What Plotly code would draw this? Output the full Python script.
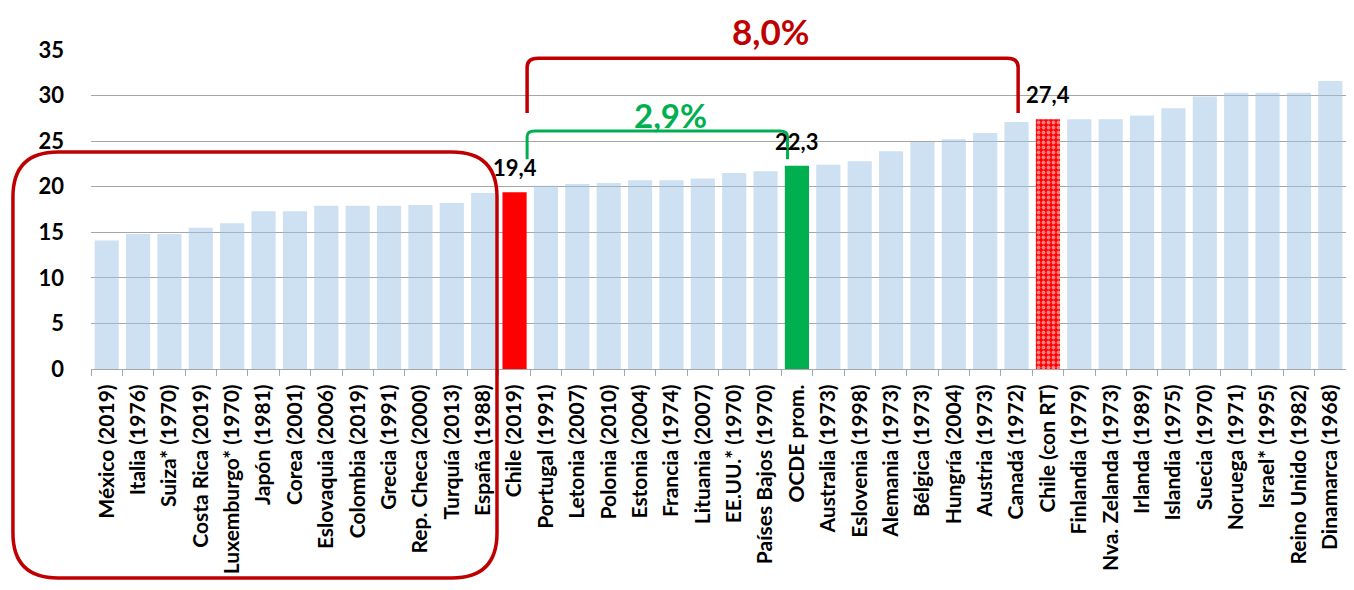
import plotly.graph_objs as go

# Countries (year of introduction) ordered by value
paises = [
    "México (2019)", "Italia (1976)", "Suiza* (1970)", "Costa Rica (2019)",
    "Luxemburgo* (1970)", "Japón (1981)", "Corea (2001)", "Eslovaquia (2006)",
    "Colombia (2019)", "Grecia (1991)", "Rep. Checa (2000)", "Turquía (2013)",
    "España (1988)", "Chile (2019)", "Portugal (1991)", "Letonia (2007)",
    "Polonia (2010)", "Estonia (2004)", "Francia (1974)", "Lituania (2007)",
    "EE.UU.* (1970)", "Países Bajos (1970)", "OCDE prom.", "Australia (1973)",
    "Eslovenia (1998)", "Alemania (1973)", "Bélgica (1973)", "Hungría (2004)",
    "Austria (1973)", "Canadá (1972)", "Chile (con RT)", "Finlandia (1979)",
    "Nva. Zelanda (1973)", "Irlanda (1989)", "Islandia (1975)", "Suecia (1970)",
    "Noruega (1971)", "Israel* (1995)", "Reino Unido (1982)", "Dinamarca (1968)",
]
valores = [
    14.1, 14.8, 14.8, 15.5, 16.0, 17.3, 17.3, 17.9, 17.9, 17.9, 18.0, 18.2,
    19.3, 19.4, 20.1, 20.3, 20.4, 20.7, 20.7, 20.9, 21.5, 21.7, 22.3, 22.4,
    22.8, 23.9, 24.9, 25.2, 25.9, 27.1, 27.4, 27.4, 27.4, 27.8, 28.6, 29.9,
    30.3, 30.3, 30.3, 31.6,
]
etiquetas = {"Chile (2019)": "19,4", "OCDE prom.": "22,3", "Chile (con RT)": "27,4"}

AZUL = "rgba(157,195,230,0.5)"
ROJO = "#ff0000"
VERDE = "#00b050"
ROJO_OSC = "#c00000"
FONT = "Lato"

colores = []
for p in paises:
    if p == "Chile (2019)":
        colores.append(ROJO)
    elif p == "OCDE prom.":
        colores.append(VERDE)
    elif p == "Chile (con RT)":
        colores.append(ROJO)
    else:
        colores.append(AZUL)

shapes_pat = ["." if p == "Chile (con RT)" else "" for p in paises]

fig = go.Figure()
fig.add_trace(go.Bar(
    x=paises, y=valores,
    marker=dict(
        color=colores, line=dict(width=0),
        pattern=dict(shape=shapes_pat, fgcolor="white", size=5, solidity=0.45,
                     fillmode="overlay"),
    ),
    showlegend=False,
))

# value labels above highlighted bars
for p, txt in etiquetas.items():
    fig.add_annotation(x=p, y=valores[paises.index(p)], text=f"<b>{txt}</b>",
                       showarrow=False, yanchor="bottom", yshift=9,
                       font=dict(family=FONT, size=22, color="black"))

# page body has an 8px margin; work in screen pixels and shift
OFF = 8
W, H = 1354 - 2 * OFF, 590 - 2 * OFF
L, T = 91 - OFF, 50 - OFF
B = H - (369 - OFF)
R = 0
pw, ph = W - L - R, H - T - B


def px(x, y):
    # screen pixel -> paper coords
    return (x - OFF - L) / pw, (H - B - (y - OFF)) / ph


def rounded_rect(x0, y0, x1, y1, r):
    pts = [
        ("M", x0 + r, y0), ("L", x1 - r, y0), ("Q", x1, y0, x1, y0 + r),
        ("L", x1, y1 - r), ("Q", x1, y1, x1 - r, y1), ("L", x0 + r, y1),
        ("Q", x0, y1, x0, y1 - r), ("L", x0, y0 + r), ("Q", x0, y0, x0 + r, y0),
    ]
    out = []
    for seg in pts:
        cmd, coords = seg[0], seg[1:]
        xy = []
        for i in range(0, len(coords), 2):
            a, b = px(coords[i], coords[i + 1])
            xy.append(f"{a:.4f},{b:.4f}")
        out.append(cmd + " " + " ".join(xy))
    return " ".join(out) + " Z"


fig.add_shape(type="path", xref="paper", yref="paper",
              path=rounded_rect(13, 152, 497, 578, 45),
              line=dict(color=ROJO_OSC, width=3.5), layer="above")


def bracket(x0, x1, ytop, ybot, r=0.35, ry=1.0):
    return (f"M {x0},{ybot} L {x0},{ytop - ry} Q {x0},{ytop} {x0 + r},{ytop} "
            f"L {x1 - r},{ytop} Q {x1},{ytop} {x1},{ytop - ry} L {x1},{ybot}")


fig.add_shape(type="path", xref="x", yref="y",
              path=bracket(13.4, 29.05, 34.1, 28.1),
              line=dict(color=ROJO_OSC, width=3.5), layer="above")
fig.add_shape(type="path", xref="x", yref="y",
              path=bracket(13.4, 21.7, 26.1, 23.0, r=0.25, ry=0.6),
              line=dict(color=VERDE, width=3), layer="above")

ax, ay = px(770, 31)
fig.add_annotation(xref="paper", yref="paper", x=ax, y=ay,
                   xanchor="center", yanchor="middle", borderpad=0,
                   text="<b>8,0%</b>", showarrow=False,
                   font=dict(family=FONT, size=35, color=ROJO_OSC))
gx, gy = px(670, 115)
fig.add_annotation(xref="paper", yref="paper", x=gx, y=gy,
                   xanchor="center", yanchor="middle", borderpad=0,
                   text="<b>2,9%</b>", showarrow=False,
                   font=dict(family=FONT, size=33, color=VERDE))

fig.update_layout(
    width=W, height=H,
    margin=dict(l=L, r=R, t=T, b=B, autoexpand=False),
    plot_bgcolor="white", paper_bgcolor="white",
    bargap=0.23,
    font=dict(family=FONT, color="black"),
    xaxis=dict(
        type="category", tickangle=-90, tickson="boundaries",
        ticks="outside", ticklen=6, tickcolor="#a6a6a6",
        showline=True, linecolor="#a6a6a6", linewidth=1,
        ticklabelstandoff=6,
        tickfont=dict(family=FONT, size=21, color="black", weight="bold"),
        showgrid=False,
    ),
    yaxis=dict(
        range=[0, 35], dtick=5, showgrid=True, gridcolor="#a6a6a6",
        zeroline=False, ticklabelstandoff=26,
        tickfont=dict(family=FONT, size=22, color="black", weight="bold"),
    ),
)

fig.write_html("out.html")
